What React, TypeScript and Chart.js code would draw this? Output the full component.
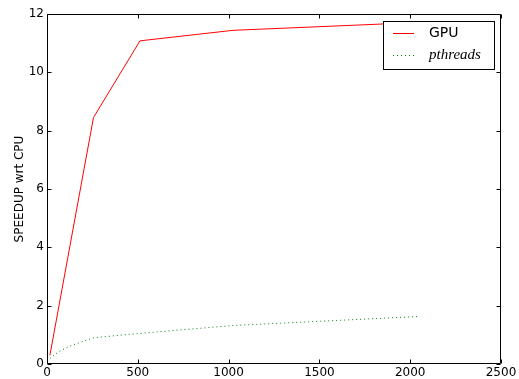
import React, { useEffect, useRef } from "react";
import { Chart, registerables } from "chart.js";

Chart.register(...registerables);

const gpuX = [16, 256, 512, 1024, 2048];
const gpuY = [0.3, 8.45, 11.08, 11.44, 11.71];
const pthX = [16, 32, 64, 128, 256, 512, 1024, 2048];
const pthY = [0.19, 0.27, 0.42, 0.62, 0.9, 1.05, 1.32, 1.63];
const xTicks = [0, 500, 1000, 1500, 2000, 2500];
const yTicks = [0, 2, 4, 6, 8, 10, 12];
const seriesNames = ["GPU", "pthreads"];
const yTitle = "SPEEDUP wrt CPU";

const RED = "#ff0000";
const GREEN = "#008000";
const DASH = [1, 3];

const framePlugin = {
  id: "mplFrame",
  afterDatasetsDraw(chart: any) {
    const { ctx, chartArea: a, scales } = chart;
    const xs = scales.x;
    const ys = scales.y;
    ctx.save();
    ctx.strokeStyle = "#000";
    ctx.lineWidth = 1;
    ctx.setLineDash([]);
    ctx.beginPath();
    const L = Math.round(a.left) + 0.5;
    const R = Math.round(a.right) - 0.5;
    const T = Math.round(a.top) + 0.5;
    const B = Math.round(a.bottom) - 0.5;
    ctx.rect(L, T, R - L, B - T);
    ctx.stroke();
    const tl = 4;
    ctx.beginPath();
    xTicks.forEach((v) => {
      const px = Math.round(xs.getPixelForValue(v)) + 0.5;
      ctx.moveTo(px, B);
      ctx.lineTo(px, B - tl);
      ctx.moveTo(px, T);
      ctx.lineTo(px, T + tl);
    });
    yTicks.forEach((v) => {
      const py = Math.round(ys.getPixelForValue(v)) + 0.5;
      ctx.moveTo(L, py);
      ctx.lineTo(L + tl, py);
      ctx.moveTo(R, py);
      ctx.lineTo(R - tl, py);
    });
    ctx.stroke();
    ctx.restore();
  },
  afterDraw(chart: any) {
    const { ctx } = chart;
    ctx.save();
    const bx = 383.5, by = 21.5, bw = 111, bh = 48;
    ctx.fillStyle = "#fff";
    ctx.fillRect(bx, by, bw, bh);
    ctx.strokeStyle = "#000";
    ctx.lineWidth = 1;
    ctx.strokeRect(bx, by, bw, bh);
    const rows = [
      { y: 33.5, color: RED, dash: [] as number[], font: "14px 'DejaVu Sans'" },
      { y: 55.5, color: GREEN, dash: DASH, font: "italic 15px 'Liberation Serif'" },
    ];
    rows.forEach((r, i) => {
      ctx.beginPath();
      ctx.strokeStyle = r.color;
      ctx.setLineDash(r.dash);
      ctx.moveTo(393, r.y);
      ctx.lineTo(414, r.y);
      ctx.stroke();
      ctx.setLineDash([]);
      ctx.fillStyle = "#000";
      ctx.font = r.font;
      ctx.textAlign = "left";
      ctx.textBaseline = "middle";
      ctx.fillText(seriesNames[i], 429, r.y);
    });
    ctx.restore();
  },
};

export default function App() {
  const ref = useRef<HTMLCanvasElement>(null);
  useEffect(() => {
    document.body.style.margin = "0";
    const canvas = ref.current!;
    const chart = new Chart(canvas, {
      type: "line",
      data: {
        datasets: [
          {
            label: seriesNames[0],
            data: gpuX.map((x, i) => ({ x, y: gpuY[i] })),
            borderColor: RED,
            borderWidth: 1,
            pointRadius: 0,
            fill: false,
            tension: 0,
          },
          {
            label: seriesNames[1],
            data: pthX.map((x, i) => ({ x, y: pthY[i] })),
            borderColor: GREEN,
            borderWidth: 1,
            borderDash: DASH,
            pointRadius: 0,
            fill: false,
            tension: 0,
          },
        ],
      },
      options: {
        animation: false,
        responsive: false,
        devicePixelRatio: 1,
        layout: { padding: { top: 14, right: 18, left: 0, bottom: 0 } },
        plugins: { legend: { display: false }, tooltip: { enabled: false } },
        scales: {
          x: {
            type: "linear",
            min: 0,
            max: 2500,
            afterFit: (s: any) => {
              s.height = 15;
            },
            afterBuildTicks: (s: any) => {
              s.ticks = xTicks.map((v) => ({ value: v }));
            },
            grid: { display: false, drawTicks: false },
            border: { display: false },
            ticks: {
              color: "#000",
              font: { family: "DejaVu Sans", size: 12 },
              padding: 2,
              maxRotation: 0,
              autoSkip: false,
              callback: (v: any) => String(v),
            },
          },
          y: {
            type: "linear",
            min: 0,
            max: 12,
            afterFit: (s: any) => {
              s.width = 47;
            },
            afterBuildTicks: (s: any) => {
              s.ticks = yTicks.map((v) => ({ value: v }));
            },
            grid: { display: false, drawTicks: false },
            border: { display: false },
            ticks: {
              color: "#000",
              font: { family: "DejaVu Sans", size: 12 },
              padding: 3,
              autoSkip: false,
              callback: (v: any) => String(v),
            },
            title: {
              display: true,
              text: yTitle,
              color: "#000",
              font: { family: "DejaVu Sans", size: 12 },
              padding: { top: 13, bottom: 0 },
            },
          },
        },
      },
      plugins: [framePlugin],
    });
    return () => chart.destroy();
  }, []);
  return (
    <div style={{ width: 519, height: 379 }}>
      <canvas ref={ref} width={519} height={379} style={{ display: "block" }} />
    </div>
  );
}
